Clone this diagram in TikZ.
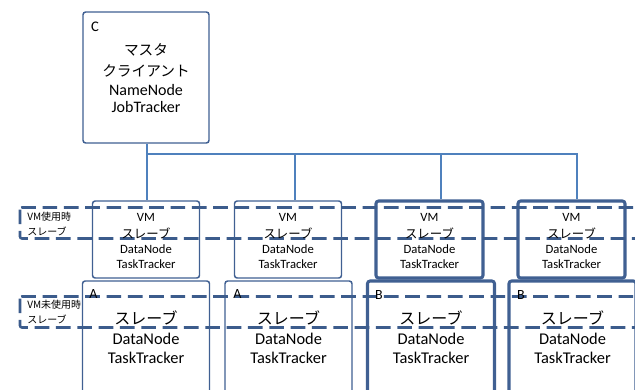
\documentclass[tikz,border=0pt]{standalone}
\usepackage{fontspec}
\setmainfont{Carlito}
\newfontfamily\jp{Noto Sans CJK JP}
\usetikzlibrary{calc}
\definecolor{boxc}{RGB}{64,96,146}
\definecolor{connc}{RGB}{79,129,189}
\definecolor{dashc}{RGB}{60,92,140}
\tikzset{
  box/.style={draw=boxc, line width=1.1pt, rounded corners=2pt, inner sep=0pt},
  thickbox/.style={box, line width=2.3pt},
  vmbox/.style={minimum width=80.25pt, minimum height=57.75pt},
  lowbox/.style={minimum width=95.25pt, minimum height=89.25pt},
  conn/.style={draw=connc, line width=1.5pt},
  dashrect/.style={draw=dashc, line width=1.9pt, dash pattern=on 11pt off 5pt, rounded corners=1.5pt},
  txt/.style={inner sep=0pt, text=black},
}
\begin{document}
\begin{tikzpicture}[x=0.75pt,y=-0.75pt]
\useasboundingbox[fill=white] (0,0) rectangle (635,389);
% master
\node[box, minimum width=94.5pt, minimum height=98.25pt] (master) at (146,77.5) {};
% VM boxes
\node[box, vmbox] (vm1) at (146,239.5) {};
\node[box, vmbox] (vm2) at (288,239.5) {};
\node[thickbox, vmbox] (vm3) at (429.5,239.5) {};
\node[thickbox, vmbox] (vm4) at (571.5,239.5) {};
% lower boxes
\node[box, lowbox] (low1) at (146,340.5) {};
\node[box, lowbox] (low2) at (288.5,340.5) {};
\node[thickbox, lowbox] (low3) at (431,340.5) {};
\node[thickbox, lowbox] (low4) at (572.5,340.5) {};
% connectors
\coordinate (bus) at (147,154);
\draw[conn] (master.south -| bus) -- (bus) -- (vm1.north -| bus);
\draw[conn] (bus) -- ($(vm4.north |- bus)+(5.5,0)$) -- ($(vm4.north)+(5.5,0)$);
\draw[conn] ($(vm2.north |- bus)+(7,0)$) -- ($(vm2.north)+(7,0)$);
\draw[conn] ($(vm3.north |- bus)+(11.5,0)$) -- ($(vm3.north)+(11.5,0)$);
% dashed bands
\draw[dashrect] (20,207.5) rectangle (650,238.5);
\draw[dashrect] (20,296.5) rectangle (650,327.5);
\node[txt, anchor=west, font=\jp\fontsize{7.5pt}{9pt}\selectfont] (l1a) at (27,217) {VM使用時};
\node[txt, anchor=west, font=\jp\fontsize{7.5pt}{9pt}\selectfont] (l1b) at (27,231) {スレーブ};
\node[txt, anchor=west, font=\jp\fontsize{7.5pt}{9pt}\selectfont] (l2a) at (27,305) {VM未使用時};
\node[txt, anchor=west, font=\jp\fontsize{7.5pt}{9pt}\selectfont] (l2b) at (27,319) {スレーブ};
% master text
\node[txt, font=\fontsize{11pt}{13pt}\selectfont] (mc) at (95,27) {C};
\node[txt, font=\jp\fontsize{11pt}{12pt}\selectfont] (m1) at (146,50) {マスタ};
\node[txt, font=\jp\fontsize{11pt}{12pt}\selectfont] (m2) at (146,71) {クライアント};
\node[txt, font=\fontsize{12pt}{14pt}\selectfont] (m3) at (146,90) {NameNode};
\node[txt, font=\fontsize{12pt}{14pt}\selectfont] (m4) at (146,107) {JobTracker};
% VM box texts
\foreach \n/\x in {1/146,2/288,3/429.5,4/571.5}{
  \node[txt, font=\fontsize{9.5pt}{11pt}\selectfont] (vmt\n) at (\x,217) {VM};
  \node[txt, font=\jp\fontsize{9.3pt}{11pt}\selectfont] (vms\n) at (\x,233) {スレーブ};
  \node[txt, font=\fontsize{9.5pt}{11pt}\selectfont] (vmd\n) at (\x,249.5) {DataNode};
  \node[txt, font=\fontsize{9.5pt}{11pt}\selectfont] (vmk\n) at (\x,264.5) {TaskTracker};
}
% lower box texts
\foreach \n/\x in {1/146,2/288.5,3/431,4/572.5}{
  \node[txt, font=\jp\fontsize{12pt}{13pt}\selectfont] (ls\n) at (\x,318) {スレーブ};
  \node[txt, font=\fontsize{12.3pt}{14pt}\selectfont] (ld\n) at (\x,339) {DataNode};
  \node[txt, font=\fontsize{12.3pt}{14pt}\selectfont] (lk\n) at (\x,357.5) {TaskTracker};
}
\node[txt, font=\fontsize{10.5pt}{12pt}\selectfont] (la1) at (93.5,294) {A};
\node[txt, font=\fontsize{10.5pt}{12pt}\selectfont] (la2) at (237.5,294) {A};
\node[txt, font=\fontsize{10.5pt}{12pt}\selectfont] (lb3) at (379,295) {B};
\node[txt, font=\fontsize{10.5pt}{12pt}\selectfont] (lb4) at (521,295) {B};
\end{tikzpicture}
\end{document}
